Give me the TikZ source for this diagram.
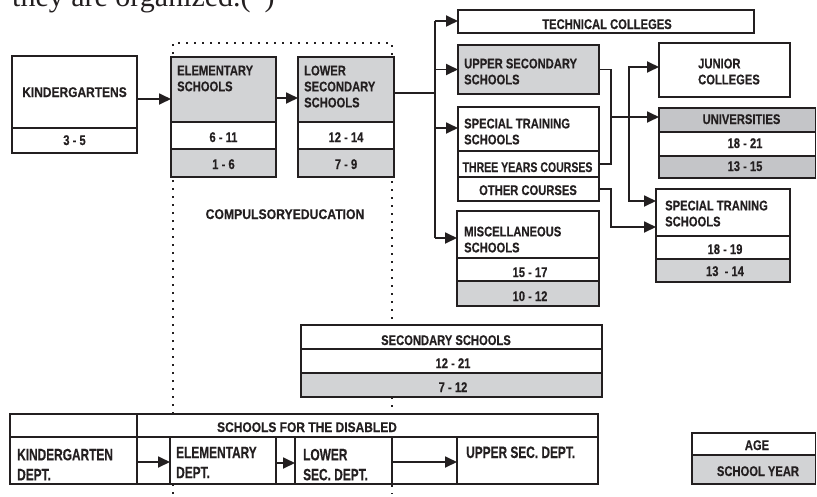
\documentclass[tikz,border=0pt]{standalone}
\usepackage{fontspec}
\usepackage{graphicx}
\setmainfont{Liberation Sans}
\newfontfamily\fa{Liberation Sans}[FakeStretch=0.80,FakeBold=0.3]
\newfontfamily\fb{Liberation Sans}[FakeStretch=0.72,FakeBold=0.3]
\newfontfamily\fser{Liberation Serif}
\usetikzlibrary{arrows.meta,fit}
\definecolor{ink}{RGB}{35,31,32}
\definecolor{gA}{RGB}{210,211,213}
\definecolor{gB}{RGB}{196,197,200}
\newcommand\txa{\fa\bfseries\fontsize{14}{16}\selectfont}
\newcommand\txb{\fb\bfseries\fontsize{16.5}{20}\selectfont}
\newcommand\wid[2]{\scalebox{#1}[1]{#2}}
\begin{document}
\begin{tikzpicture}[x=1pt,y=-1pt,
  cellbox/.style={draw=ink,line width=1.8pt,inner sep=0pt,outer sep=0pt,fill=white},
  conn/.style={draw=ink,line width=1.8pt},
  arr/.style={conn,-{Triangle[length=12pt,width=11pt]}},
  dotline/.style={draw=ink,line width=2pt,dash pattern=on 2pt off 6pt},
  tc/.style={inner sep=0pt,text=ink,font=\txa,anchor=base},
  tl/.style={inner sep=0pt,text=ink,font=\txa,anchor=north west,align=left},
  tlb/.style={inner sep=0pt,text=ink,font=\txb,anchor=north west,align=left}]
\useasboundingbox (0,0) rectangle (817,496);
\fill[white] (0,0) rectangle (817,496);
\clip (0,0) rectangle (817,496);

% header fragment
\node[inner sep=0pt,anchor=base west,text=ink,font=\fser\fontsize{30}{30}\selectfont] (hdr) at (12,6.5) {they are organized.(\hspace{14pt})};

% compulsory education frame
\coordinate (d1) at (173,494);
\coordinate (d2) at (173,43);
\coordinate (d3) at (392,43);
\coordinate (d4) at (392,494);
\draw[dotline] (d1) -- (d2) -- (d3) -- (d4);

% boxes
\node[cellbox,fit={(12,56) (137,128)}] (kg) {};
\node[cellbox,fit={(12,128) (137,153)}] (kgA) {};
\node[cellbox,fill=gA,fit={(171,57) (276,122)}] (el) {};
\node[cellbox,fit={(171,122) (276,149)}] (elA) {};
\node[cellbox,fill=gA,fit={(171,149) (276,177)}] (elY) {};
\node[cellbox,fill=gA,fit={(298,57) (394,122)}] (ls) {};
\node[cellbox,fit={(298,122) (394,149)}] (lsA) {};
\node[cellbox,fill=gA,fit={(298,149) (394,177)}] (lsY) {};
\node[cellbox,fit={(458,10) (754,33)}] (tcl) {};
\node[cellbox,fill=gA,fit={(458,45) (599,94)}] (us) {};
\node[cellbox,fit={(458,107) (599,151)}] (st) {};
\node[cellbox,fit={(458,151) (599,177)}] (st3) {};
\node[cellbox,fit={(458,177) (599,201)}] (sto) {};
\node[cellbox,fit={(457,211) (599,258)}] (mi) {};
\node[cellbox,fit={(457,258) (599,281)}] (miA) {};
\node[cellbox,fill=gA,fit={(457,281) (599,306)}] (miY) {};
\node[cellbox,fit={(659,43) (790,97)}] (jc) {};
\node[cellbox,fill=gB,fit={(659,108) (815.5,132)}] (un) {};
\node[cellbox,fit={(659,132) (815.5,156)}] (unA) {};
\node[cellbox,fill=gB,fit={(659,156) (815.5,178)}] (unY) {};
\node[cellbox,fit={(656,189) (790,236)}] (sp) {};
\node[cellbox,fit={(656,236) (790,259)}] (spA) {};
\node[cellbox,fill=gA,fit={(656,259) (790,282)}] (spY) {};
\node[cellbox,fit={(301,325) (602,349)}] (ss) {};
\node[cellbox,fit={(301,349) (602,373)}] (ssA) {};
\node[cellbox,fill=gA,fit={(301,373) (602,397)}] (ssY) {};
% schools for the disabled
\node[cellbox,fit={(10,414) (137,437)}] (dh0) {};
\node[cellbox,fit={(137,414) (598,437)}] (dh1) {};
\node[cellbox,fit={(10,437) (137,484)}] (dk) {};
\node[cellbox,fit={(137,437) (170,484)}] (da1) {};
\node[cellbox,fit={(170,437) (276,484)}] (de) {};
\node[cellbox,fit={(276,437) (295,484)}] (da2) {};
\node[cellbox,fit={(295,437) (392,484)}] (dl) {};
\node[cellbox,fit={(392,437) (457,484)}] (da3) {};
\node[cellbox,fit={(457,437) (598,484)}] (du) {};
% legend
\node[cellbox,fit={(692,433) (815.5,455)}] (lgA) {};
\node[cellbox,fill=gA,fit={(692,455) (815.5,484)}] (lgY) {};

% connectors
\draw[arr] (kg.east |- 0,99) -- (el.west |- 0,99);
\draw[arr] (el.east |- 0,98) -- (ls.west |- 0,98);
\coordinate (tj) at (435,93);
\coordinate (tt) at (435,21);
\coordinate (tb) at (435,238);
\draw[conn] (ls.east |- tj) -- (tj);
\draw[conn] (tt) -- (tb);
\draw[arr] (tt) -- (tt -| tcl.west);
\draw[arr] (tj |- us.west) -- (us.west);
\draw[arr] (tj |- 0,128) -- (st.west |- 0,128);
\draw[arr] (tb) -- (tb -| mi.west);
\coordinate (b1) at (611,164);
\coordinate (bm) at (611,117);
\coordinate (vj) at (629,117);
\coordinate (b2) at (611,227);
\draw[conn] (us.east) -| (b1) -- (b1 -| st3.east);
\draw[arr] (bm) -- (bm -| un.west);
\draw[arr] (vj) |- (jc.west |- 0,67);
\draw[arr] (vj) |- (sp.west |- 0,201);
\draw[arr] (sto.east) -| (b2) -- (b2 -| sp.west);
\draw[arr] (dk.east |- 0,462) -- (de.west |- 0,462);
\draw[arr] (de.east |- 0,463) -- (dl.west |- 0,463);
\draw[arr] (dl.east |- 0,462) -- (du.west |- 0,462);

% texts
\node[tc] (t1) at (74.5,97) {\wid{1.07}{KINDERGARTENS}};
\node[tc] (t2) at (74.5,145) {3 - 5};
\node[tl] (t3) at (177,65.4) {ELEMENTARY\\SCHOOLS};
\node[tc] (t4) at (223.5,142) {6 - 11};
\node[tc] (t5) at (223.5,169) {1 - 6};
\node[tl] (t6) at (304,65.4) {LOWER\\SECONDARY\\SCHOOLS};
\node[tc] (t7) at (346,142) {12 - 14};
\node[tc] (t8) at (346,169) {7 - 9};
\node[tc] (t9) at (607,29) {TECHNICAL COLLEGES};
\node[tl] (t10) at (464,58.4) {UPPER SECONDARY\\SCHOOLS};
\node[tl] (t11) at (464,118.4) {SPECIAL TRAINING\\SCHOOLS};
\node[tc] (t12) at (527.5,172) {\wid{0.94}{THREE YEARS COURSES}};
\node[tc] (t13) at (528,195) {OTHER COURSES};
\node[tl] (t14) at (464,226.4) {MISCELLANEOUS\\SCHOOLS};
\node[tc] (t15) at (530,277) {15 - 17};
\node[tc] (t16) at (530,301) {10 - 12};
\node[tl] (t17) at (698,58.4) {JUNIOR\\COLLEGES};
\node[tc] (t18) at (741.5,124) {UNIVERSITIES};
\node[tc] (t19) at (745,148) {18 - 21};
\node[tc] (t20) at (745,171) {13 - 15};
\node[tl] (t21) at (665,200.4) {SPECIAL TRANING\\SCHOOLS};
\node[tc] (t22) at (725,254) {18 - 19};
\node[tc] (t23) at (725,276) {13 \ - 14};
\node[tc] (t24) at (285,219) {\wid{1.09}{COMPULSORYEDUCATION}};
\node[tc] (t25) at (446,345) {SECONDARY SCHOOLS};
\node[tc] (t26) at (453,368) {12 - 21};
\node[tc] (t27) at (453,392) {7 - 12};
\node[tc] (t28) at (307,432) {\wid{1.07}{SCHOOLS FOR THE DISABLED}};
\node[tlb] (t29) at (17,448.6) {KINDERGARTEN\\DEPT.};
\node[tlb] (t30) at (176,446.6) {ELEMENTARY\\DEPT.};
\node[tlb] (t31) at (303,448.6) {LOWER\\SEC. DEPT.};
\node[inner sep=0pt,text=ink,font=\txb,anchor=base west] (t32) at (466,458) {UPPER SEC. DEPT.};
\node[tc] (t33) at (757,450) {AGE};
\node[tc] (t34) at (758,476) {SCHOOL YEAR};
\end{tikzpicture}
\end{document}
